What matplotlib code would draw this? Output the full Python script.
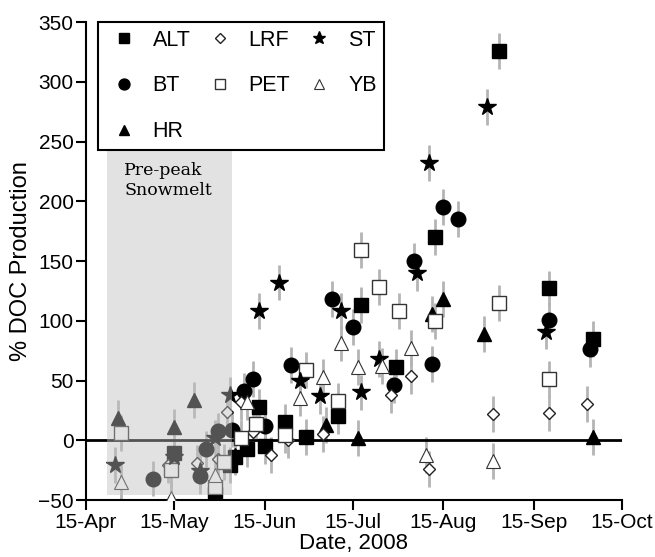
import matplotlib
matplotlib.use("Agg")
import matplotlib.pyplot as plt
import matplotlib.dates as mdates
import pandas as pd

plt.rcParams['font.family'] = ['Liberation Sans', 'DejaVu Sans']

# % DOC production per site (dates)
alt_dates = ["2008-05-15", "2008-05-29", "2008-06-03", "2008-06-05", "2008-06-09", "2008-06-15",
             "2008-06-13", "2008-06-22", "2008-06-29", "2008-07-10", "2008-07-18", "2008-07-30",
             "2008-08-12", "2008-09-03", "2008-09-20", "2008-10-05"]
alt_vals = [-11, -45, -21, -14, -7, -5, 28, 15, 3, 20, 113, 61, 170, 326, 127, 85]

bt_dates = ["2008-05-08", "2008-05-24", "2008-05-26", "2008-05-30", "2008-06-04", "2008-06-08",
            "2008-06-11", "2008-06-15", "2008-06-24", "2008-07-08", "2008-07-15", "2008-07-29",
            "2008-08-05", "2008-08-11", "2008-08-15", "2008-08-20", "2008-09-20", "2008-10-04"]
bt_vals = [-32, -30, -7, 8, 9, 41, 51, 12, 63, 118, 95, 46, 150, 64, 195, 185, 101, 76]

hr_dates = ["2008-04-26", "2008-05-15", "2008-05-22", "2008-06-05", "2008-07-06", "2008-07-17",
            "2008-08-11", "2008-08-15", "2008-08-29", "2008-10-05"]
hr_vals = [19, 11, 34, -12, 13, 2, 106, 118, 89, 3]

lrf_dates = ["2008-05-13", "2008-05-23", "2008-05-30", "2008-06-02", "2008-06-07", "2008-06-11",
             "2008-06-17", "2008-06-23", "2008-07-05", "2008-07-28", "2008-08-04", "2008-08-10",
             "2008-09-01", "2008-09-20", "2008-10-03"]
lrf_vals = [-21, -19, -16, 24, 32, 7, -12, 0, 5, 38, 54, -24, 22, 23, 30]

pet_dates = ["2008-04-27", "2008-05-14", "2008-05-29", "2008-06-01", "2008-06-07", "2008-06-12",
             "2008-06-22", "2008-06-29", "2008-07-10", "2008-07-18", "2008-07-24", "2008-07-31",
             "2008-08-12", "2008-09-03", "2008-09-20"]
pet_vals = [6, -25, -39, -18, 2, 14, 4, 59, 33, 159, 128, 108, 100, 115, 51]

st_dates = ["2008-04-25", "2008-05-15", "2008-05-24", "2008-05-29", "2008-06-03", "2008-06-13",
            "2008-06-20", "2008-06-27", "2008-07-04", "2008-07-11", "2008-07-18", "2008-07-24",
            "2008-08-06", "2008-08-10", "2008-08-30", "2008-09-19"]
st_vals = [-21, -14, -26, 2, 38, 108, 132, 50, 37, 108, 40, 68, 140, 232, 279, 91]

yb_dates = ["2008-04-27", "2008-05-14", "2008-05-29", "2008-06-09", "2008-06-27", "2008-07-05",
            "2008-07-11", "2008-07-17", "2008-07-25", "2008-08-04", "2008-08-09", "2008-09-01"]
yb_vals = [-35, -48, -29, 32, 35, 53, 81, 61, 62, 77, -12, -17]

err = 15

tick_dates = ["2008-04-15", "2008-05-15", "2008-06-15", "2008-07-15",
              "2008-08-15", "2008-09-15", "2008-10-15"]
tick_labels = ["15-Apr", "15-May", "15-Jun", "15-Jul", "15-Aug", "15-Sep", "15-Oct"]

# marker style per site
series = [
    ("ALT", alt_dates, alt_vals, dict(marker="s", ms=10, mfc="black", mec="black")),
    ("BT", bt_dates, bt_vals, dict(marker="o", ms=10.5, mfc="black", mec="black")),
    ("HR", hr_dates, hr_vals, dict(marker="^", ms=10, mfc="black", mec="black")),
    ("LRF", lrf_dates, lrf_vals, dict(marker="D", ms=6.5, mfc="white", mec="#222222", mew=1)),
    ("PET", pet_dates, pet_vals, dict(marker="s", ms=10, mfc="white", mec="#333333", mew=1)),
    ("ST", st_dates, st_vals, dict(marker="*", ms=13, mfc="black", mec="black")),
    ("YB", yb_dates, yb_vals, dict(marker="^", ms=10, mfc="white", mec="#333333", mew=0.8)),
]

fig = plt.figure(figsize=(6.55, 5.57), dpi=100)
ax = fig.add_axes([0.1313, 0.1023, 0.8183, 0.8582])

ax.axhline(0, color="black", lw=2, zorder=2)

handles = []
for name, d, v, style in series:
    x = pd.to_datetime(d)
    ax.errorbar(x, v, yerr=err, fmt="none", ecolor="#b4b4b4", elinewidth=2, zorder=1)
    h, = ax.plot(x, v, ls="none", zorder=3, label=name, **style)
    handles.append(h)

# pre-peak snowmelt window, laid over the points
x0 = mdates.date2num(pd.Timestamp("2008-04-22"))
x1 = mdates.date2num(pd.Timestamp("2008-06-04"))
ax.add_patch(plt.Rectangle((x0, -46), x1 - x0, 293, facecolor="#bfbfbf",
                           alpha=0.44, edgecolor="none", zorder=5))
ax.text(mdates.date2num(pd.Timestamp("2008-04-28")), 233, "Pre-peak\nSnowmelt",
        family="DejaVu Serif", fontsize=12.5, va="top", ha="left", linespacing=1.25, zorder=6)

ax.set_xlim(pd.Timestamp("2008-04-15"), pd.Timestamp("2008-10-15"))
ax.set_ylim(-50, 350)
ax.set_xticks(pd.to_datetime(tick_dates))
ax.set_xticklabels(tick_labels)
ax.set_yticks(range(-50, 351, 50))

for s in ["top", "right"]:
    ax.spines[s].set_visible(False)
for s in ["left", "bottom"]:
    ax.spines[s].set_linewidth(1.5)
ax.tick_params(direction="out", length=7, width=1.5, labelsize=15, pad=2)

ax.set_xlabel("Date, 2008", fontsize=16, labelpad=1)
ax.set_ylabel("% DOC Production", fontsize=17, labelpad=4)

leg = ax.legend(handles=handles, ncol=3, loc="upper left", bbox_to_anchor=(0.022, 1.0),
                borderaxespad=0, fontsize=15.5, frameon=True, fancybox=False, framealpha=1,
                edgecolor="black", markerscale=0.75, handlelength=1.7,
                columnspacing=0.5, labelspacing=1.15, borderpad=0.35, handletextpad=0.5)
leg.get_frame().set_linewidth(1.5)
leg.set_zorder(10)

fig.savefig("out.png", dpi=100)
